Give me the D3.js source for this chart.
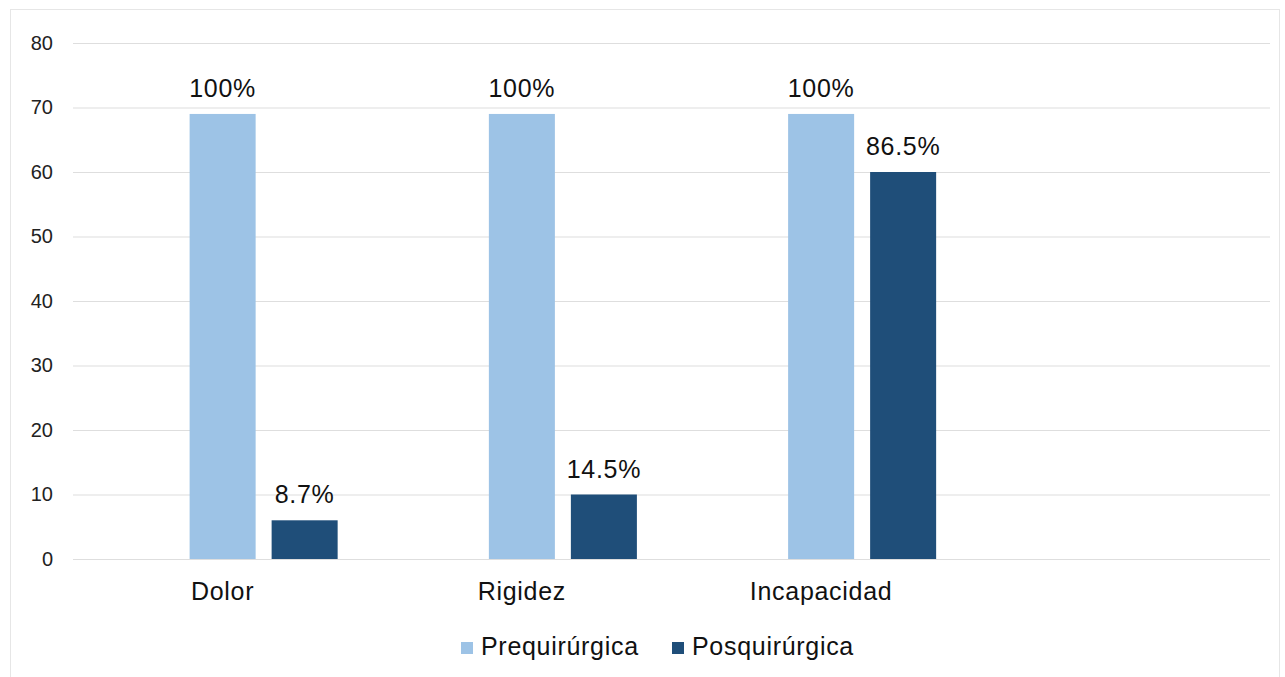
<!DOCTYPE html>
<html>
<head>
<meta charset="utf-8">
<script src="https://cdn.jsdelivr.net/npm/d3@7"></script>
<style>
  html, body { margin: 0; padding: 0; background: #fff; }
  svg { display: block; font-family: "Liberation Sans", Arial, sans-serif; }
</style>
</head>
<body>
<svg id="chart" width="1285" height="677"></svg>
<script>
// Categories (the fourth slot is left empty in the layout)
const categories = ["Dolor", "Rigidez", "Incapacidad", ""];
const seriesNames = ["Prequirúrgica", "Posquirúrgica"];
const preValues = [69, 69, 69];
const postValues = [6, 10, 60];
const preLabels = ["100%", "100%", "100%"];
const postLabels = ["8.7%", "14.5%", "86.5%"];
const yTicks = [0, 10, 20, 30, 40, 50, 60, 70, 80];
const colors = ["#9dc3e6", "#1f4e79"];

const svg = d3.select("#chart");
const W = 1285, H = 677;
const margin = { left: 73, right: 15, top: 43, bottom: 118 };
const plotW = W - margin.left - margin.right;
const plotH = H - margin.top - margin.bottom;
const FONT = "'Liberation Sans', Arial, sans-serif";
const SPACING = 0.7;

// outer frame
svg.append("rect")
  .attr("x", 10.5).attr("y", 9.5)
  .attr("width", 1269).attr("height", 700)
  .attr("fill", "none").attr("stroke", "#e6e6e6").attr("stroke-width", 1);

const g = svg.append("g").attr("transform", `translate(${margin.left},${margin.top})`);

const x = d3.scaleBand().domain(d3.range(categories.length)).range([0, plotW]).padding(0);
// three slots per group; the first one stays empty
const slots = ["blank", ...seriesNames];
const xs = d3.scaleBand().domain(slots).range([0, x.bandwidth()]).paddingInner(0.195).paddingOuter(0.422);
const y = d3.scaleLinear().domain([0, 80]).range([plotH, 0]);

// gridlines
g.append("g")
  .call(d3.axisLeft(y).tickValues(yTicks).tickSize(-plotW).tickFormat(""))
  .call(a => a.select(".domain").remove())
  .call(a => a.selectAll("line").attr("stroke", "#dedede").attr("stroke-width", 1.2));

// y tick labels
g.append("g")
  .call(d3.axisLeft(y).tickValues(yTicks).tickSize(0).tickPadding(20))
  .call(a => a.select(".domain").remove())
  .call(a => a.selectAll("text").attr("font-size", 20).attr("fill", "#222").attr("font-family", FONT));

// category labels
g.append("g")
  .attr("transform", `translate(0,${plotH})`)
  .call(d3.axisBottom(x).tickSize(0).tickPadding(23).tickFormat(i => categories[i]))
  .call(a => a.select(".domain").remove())
  .call(a => a.selectAll("text").attr("font-size", 25).attr("fill", "#111")
    .attr("font-family", FONT).attr("letter-spacing", SPACING));

const rows = [
  { name: seriesNames[0], values: preValues, labels: preLabels, color: colors[0] },
  { name: seriesNames[1], values: postValues, labels: postLabels, color: colors[1] }
];

rows.forEach(s => {
  const data = s.values.map((v, i) => ({ i, v, label: s.labels[i] }));
  g.selectAll(null).data(data).enter().append("rect")
    .attr("x", d => x(d.i) + xs(s.name))
    .attr("width", xs.bandwidth())
    .attr("y", d => y(d.v))
    .attr("height", d => y(0) - y(d.v))
    .attr("fill", s.color);
  g.selectAll(null).data(data).enter().append("text")
    .attr("x", d => x(d.i) + xs(s.name) + xs.bandwidth() / 2)
    .attr("y", d => y(d.v) - 17)
    .attr("text-anchor", "middle")
    .attr("font-size", 25)
    .attr("letter-spacing", SPACING)
    .attr("fill", "#111")
    .text(d => d.label);
});

// legend
const legend = svg.append("g").attr("transform", "translate(0,655)");
const legendX = [461, 672];
seriesNames.forEach((n, i) => {
  legend.append("rect").attr("x", legendX[i]).attr("y", -13).attr("width", 12).attr("height", 12).attr("fill", colors[i]);
  legend.append("text").attr("x", legendX[i] + 20).attr("y", 0)
    .attr("font-size", 25).attr("letter-spacing", SPACING).attr("fill", "#111").text(n);
});
</script>
</body>
</html>
